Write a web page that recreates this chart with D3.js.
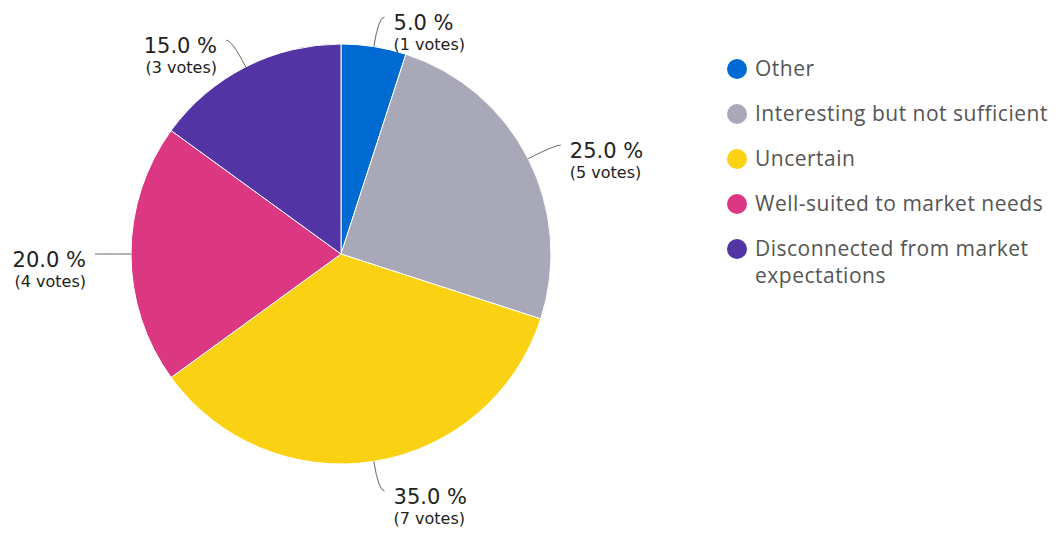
<!DOCTYPE html>
<html>
<head>
<meta charset="utf-8">
<script src="https://cdn.jsdelivr.net/npm/d3@7"></script>
<style>
  body { margin: 0; background: #fff; }
  svg { display: block; }
</style>
</head>
<body>
<svg id="chart" width="1061" height="535"></svg>
<script>
// answers, in clockwise order from 12 o'clock
var categories = ["Other", "Interesting but not sufficient", "Uncertain", "Well-suited to market needs", "Disconnected from market expectations"];
var votes = [1, 5, 7, 4, 3];
var colors = ["#006ad3", "#a8a8b8", "#fbd113", "#dc3783", "#5234a4"];

var svg = d3.select("#chart");
var cx = 341, cy = 254, radius = 210;
var total = d3.sum(votes);

var pie = d3.pie().sort(null).value(function(d) { return d; });
var arcs = pie(votes);
var arc = d3.arc().innerRadius(0).outerRadius(radius);

var g = svg.append("g").attr("transform", "translate(" + cx + "," + cy + ")");

g.selectAll("path.slice")
  .data(arcs)
  .enter().append("path")
    .attr("class", "slice")
    .attr("d", arc)
    .attr("fill", function(d, i) { return colors[i]; })
    .attr("stroke", "#fff")
    .attr("stroke-width", 1);

// callout lines + labels
function pt(a, r) { return [Math.sin(a) * r, -Math.cos(a) * r]; }

arcs.forEach(function(d, i) {
  var mid = (d.startAngle + d.endAngle) / 2;
  var right = Math.sin(mid) > 0;
  var side = right ? 1 : -1;
  var p0 = pt(mid, radius);
  var p1 = pt(mid, radius + 30);
  var p2 = [p1[0] + side * 6, p1[1]];
  g.append("path")
    .attr("d", "M" + p0 + "Q" + p1 + " " + p2)
    .attr("fill", "none")
    .attr("stroke", "#666")
    .attr("stroke-width", 1);

  var tx = p2[0] + side * 9;
  var lab = g.append("text")
    .attr("text-anchor", right ? "start" : "end")
    .attr("font-family", "DejaVu Sans")
    .attr("fill", "#222");
  lab.append("tspan")
    .attr("x", tx).attr("y", p2[1] + 13)
    .attr("font-size", 21)
    .text((d.data / total * 100).toFixed(1) + " %");
  lab.append("tspan")
    .attr("x", tx).attr("y", p2[1] + 33)
    .attr("font-size", 16)
    .text("(" + d.data + " votes)");
});

// legend
var legend = svg.append("g").attr("transform", "translate(737,69)");
var rowY = [0, 45, 90, 135, 180];
var lines = [["Other"], ["Interesting but not sufficient"], ["Uncertain"], ["Well-suited to market needs"], ["Disconnected from market", "expectations"]];

categories.forEach(function(c, i) {
  var row = legend.append("g").attr("transform", "translate(0," + rowY[i] + ")");
  row.append("circle").attr("r", 10).attr("fill", colors[i]);
  var t = row.append("text")
    .attr("font-family", "Open Sans")
    .attr("font-size", 21)
    .attr("letter-spacing", 0.5)
    .attr("fill", "#555");
  lines[i].forEach(function(l, k) {
    t.append("tspan").attr("x", 18).attr("y", 7 + k * 27).text(l);
  });
});
</script>
</body>
</html>
